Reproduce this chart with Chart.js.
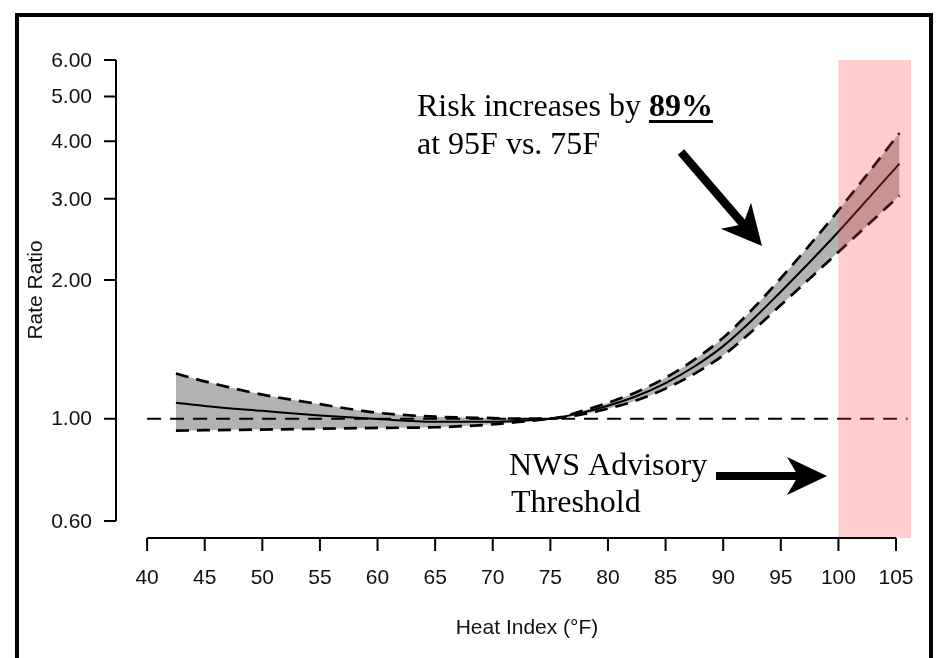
<!DOCTYPE html>
<html>
<head>
<meta charset="utf-8">
<title>Rate Ratio by Heat Index</title>
<script src="https://cdn.jsdelivr.net/npm/chart.js@4.4.1/dist/chart.umd.min.js"></script>
<style>
    html, body { margin: 0; padding: 0; background: #fff; }
    #wrap { position: absolute; left: 0; top: 0; width: 938px; height: 658px; }
    #frame {
        position: absolute; left: 15px; top: 13px; width: 918px; height: 700px;
        box-sizing: border-box; border: 4px solid #000; border-bottom: none;
        pointer-events: none;
    }
</style>
</head>
<body>
<div id="wrap">
    <canvas id="rrChart"></canvas>
    <div id="frame"></div>
</div>
<script>
// Heat index (°F) grid and the estimated rate ratio with its 95% band
const heatIndex = [42.5, 45, 50, 55, 60, 65, 70, 72.5, 75, 77.5, 80, 82.5, 85, 87.5, 90, 92.5, 95, 97.5, 100, 102.5, 105.3];
const rateRatio = [1.083, 1.066, 1.040, 1.016, 0.998, 0.985, 0.985, 0.990, 1.000, 1.027, 1.067, 1.120, 1.195, 1.298, 1.437, 1.635, 1.886, 2.185, 2.544, 2.988, 3.576];
const upperCI   = [1.253, 1.205, 1.128, 1.075, 1.030, 1.010, 1.003, 1.000, 1.000, 1.035, 1.083, 1.143, 1.227, 1.343, 1.498, 1.724, 2.017, 2.380, 2.830, 3.390, 4.166];
const lowerCI   = [0.942, 0.944, 0.947, 0.951, 0.955, 0.958, 0.972, 0.985, 1.000, 1.019, 1.051, 1.096, 1.162, 1.251, 1.372, 1.547, 1.764, 2.012, 2.299, 2.626, 3.048];

// reference line at RR = 1
const refX = [40, 106];
const refY = [1, 1];

// NWS advisory threshold (shaded from here to the right edge)
const advisoryStart = 100;

// axis ticks
const xTicks = [40, 45, 50, 55, 60, 65, 70, 75, 80, 85, 90, 95, 100, 105];
const yTicks = [0.6, 1, 2, 3, 4, 5, 6];
const yTickLabels = ['0.60', '1.00', '2.00', '3.00', '4.00', '5.00', '6.00'];

const toPoints = (xs, ys) => xs.map((v, i) => ({ x: v, y: ys[i] }));

const SANS = '"Liberation Sans", Arial, sans-serif';
const SERIF = '"Liberation Serif", "Times New Roman", serif';

function drawArrow(ctx, x0, y0, x1, y1, shaftW, headLen, headHalf) {
    const dx = x1 - x0, dy = y1 - y0;
    const len = Math.hypot(dx, dy);
    const ux = dx / len, uy = dy / len;
    const px = -uy, py = ux;
    const notchX = x1 - ux * headLen * 0.72, notchY = y1 - uy * headLen * 0.72;
    const baseX = x1 - ux * headLen, baseY = y1 - uy * headLen;

    ctx.save();
    ctx.strokeStyle = '#000';
    ctx.fillStyle = '#000';
    ctx.lineWidth = shaftW;
    ctx.lineCap = 'butt';
    ctx.beginPath();
    ctx.moveTo(x0, y0);
    ctx.lineTo(notchX + ux * 2, notchY + uy * 2);
    ctx.stroke();

    ctx.beginPath();
    ctx.moveTo(x1, y1);
    ctx.lineTo(baseX + px * headHalf, baseY + py * headHalf);
    ctx.lineTo(notchX, notchY);
    ctx.lineTo(baseX - px * headHalf, baseY - py * headHalf);
    ctx.closePath();
    ctx.fill();
    ctx.restore();
}

// R-style detached axes, advisory shading and the annotations
const rStylePlugin = {
    id: 'rStyle',
    afterDatasetsDraw(chart) {
        const { ctx, chartArea: a, scales: { x } } = chart;
        const left = x.getPixelForValue(advisoryStart);
        ctx.save();
        ctx.fillStyle = 'rgba(255, 60, 60, 0.26)';
        ctx.fillRect(left, a.top, a.right - left, a.bottom - a.top);
        ctx.restore();
    },
    afterDraw(chart) {
        const { ctx, chartArea: a, scales: { x, y } } = chart;
        ctx.save();
        ctx.strokeStyle = '#000';
        ctx.fillStyle = '#111';
        ctx.lineWidth = 2;

        // y axis
        ctx.beginPath();
        ctx.moveTo(a.left, y.getPixelForValue(yTicks[0]));
        ctx.lineTo(a.left, y.getPixelForValue(yTicks[yTicks.length - 1]));
        yTicks.forEach(t => {
            const py = y.getPixelForValue(t);
            ctx.moveTo(a.left, py);
            ctx.lineTo(a.left - 12, py);
        });
        ctx.stroke();
        ctx.font = '21px ' + SANS;
        ctx.textAlign = 'right';
        ctx.textBaseline = 'middle';
        yTicks.forEach((t, i) => {
            ctx.fillText(yTickLabels[i], a.left - 24, y.getPixelForValue(t) + 1);
        });

        // x axis
        ctx.beginPath();
        ctx.moveTo(x.getPixelForValue(xTicks[0]), a.bottom);
        ctx.lineTo(x.getPixelForValue(xTicks[xTicks.length - 1]), a.bottom);
        xTicks.forEach(t => {
            const px = x.getPixelForValue(t);
            ctx.moveTo(px, a.bottom);
            ctx.lineTo(px, a.bottom + 13);
        });
        ctx.stroke();
        ctx.textAlign = 'center';
        xTicks.forEach(t => {
            ctx.fillText(String(t), x.getPixelForValue(t), a.bottom + 40);
        });

        // axis titles
        ctx.fillText('Heat Index (°F)', 527, 628);
        ctx.save();
        ctx.translate(42, 290);
        ctx.rotate(-Math.PI / 2);
        ctx.textBaseline = 'alphabetic';
        ctx.fillText('Rate Ratio', 0, 0);
        ctx.restore();

        // annotations
        ctx.fillStyle = '#000';
        ctx.textAlign = 'left';
        ctx.textBaseline = 'alphabetic';
        ctx.font = '32px ' + SERIF;
        const lead = 'Risk increases by ';
        ctx.fillText(lead, 417, 116);
        const bx = 417 + ctx.measureText(lead).width;
        ctx.font = 'bold 32px ' + SERIF;
        ctx.fillText('89%', bx, 116);
        const bw = ctx.measureText('89%').width;
        ctx.fillRect(bx, 120, bw, 3);
        ctx.font = '32px ' + SERIF;
        ctx.fillText('at 95F vs. 75F', 417, 154);
        ctx.fillText('NWS Advisory', 509, 475);
        ctx.fillText('Threshold', 511, 512);
        ctx.restore();

        drawArrow(ctx, 681, 152, 762, 246, 8.5, 40, 20);
        drawArrow(ctx, 716, 476, 827, 476, 8, 40, 19);
    }
};

const ctx = document.getElementById('rrChart');
new Chart(ctx, {
    type: 'line',
    data: {
        datasets: [
            {
                label: 'Lower 95% CI',
                data: toPoints(heatIndex, lowerCI),
                borderColor: '#000',
                borderWidth: 2.7,
                borderDash: [13, 8],
                pointRadius: 0,
                cubicInterpolationMode: 'monotone',
                fill: false
            },
            {
                label: 'Upper 95% CI',
                data: toPoints(heatIndex, upperCI),
                borderColor: '#000',
                borderWidth: 2.7,
                borderDash: [13, 8],
                pointRadius: 0,
                cubicInterpolationMode: 'monotone',
                backgroundColor: '#b2b2b2',
                fill: '-1'
            },
            {
                label: 'Rate Ratio',
                data: toPoints(heatIndex, rateRatio),
                borderColor: '#000',
                borderWidth: 2,
                pointRadius: 0,
                cubicInterpolationMode: 'monotone',
                fill: false
            },
            {
                label: 'Reference',
                data: toPoints(refX, refY),
                borderColor: '#000',
                borderWidth: 2,
                borderDash: [14, 9],
                pointRadius: 0,
                fill: false
            }
        ]
    },
    options: {
        responsive: true,
        maintainAspectRatio: false,
        animation: false,
        layout: { padding: { left: 116, right: 27, top: 60, bottom: 120 } },
        plugins: {
            legend: { display: false },
            tooltip: { enabled: false },
            filler: { drawTime: 'beforeDatasetsDraw' }
        },
        scales: {
            x: { type: 'linear', min: 37.3, max: 106.3, display: false },
            y: { type: 'logarithmic', min: 0.551, max: 6, display: false }
        }
    },
    plugins: [rStylePlugin]
});
</script>
</body>
</html>
